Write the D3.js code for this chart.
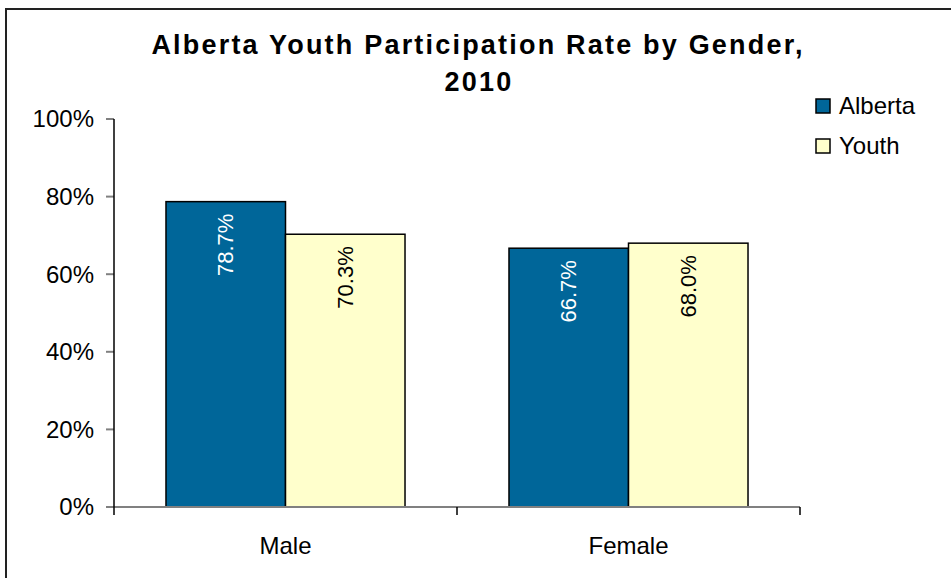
<!DOCTYPE html>
<meta charset="utf-8">
<style>
    * {
        margin: 0px;
    }
    body {
        background: #fff;
    }
    text {
        font-family: "Liberation Sans", Arial, sans-serif;
    }
</style>
<svg width="951" height="578"></svg>
<script src="https://d3js.org/d3.v7.min.js"></script>
<script>
    var categories = ["Male", "Female"];
    var seriesNames = ["Alberta", "Youth"];
    var alberta = [78.7, 66.7];
    var youth = [70.3, 68.0];
    var yTicks = [0, 20, 40, 60, 80, 100];
    var colors = ["#006699", "#FFFFCC"];
    var labelColors = ["#fff", "#000"];

    var svg = d3.select("svg");

    // outer chart frame (runs off the right and bottom edge)
    svg.append("rect")
        .attr("x", 6).attr("y", 9)
        .attr("width", 960).attr("height", 600)
        .attr("fill", "#fff")
        .attr("stroke", "#222")
        .attr("stroke-width", 2);

    // title
    var title = svg.append("text")
        .attr("text-anchor", "middle")
        .attr("font-weight", "bold")
        .attr("font-size", 27)
        .attr("letter-spacing", 2.2)
        .attr("fill", "#000");
    title.append("tspan").attr("x", 478).attr("y", 54).text("Alberta Youth Participation Rate by Gender,");
    title.append("tspan").attr("x", 479).attr("y", 91).text("2010");

    var plotLeft = 114, plotRight = 800, plotTop = 119, plotBottom = 507;

    var x0 = d3.scaleBand().domain(categories).range([plotLeft, plotRight]).paddingInner(0).paddingOuter(0);
    var x1 = d3.scaleBand().domain(seriesNames).range([0, x0.bandwidth()]).paddingOuter(0.435).paddingInner(0);
    var y = d3.scaleLinear().domain([0, 100]).range([plotBottom, plotTop]);

    var rows = categories.map(function(c, i) {
        return { cat: c, values: [alberta[i], youth[i]] };
    });

    // y tick marks (grey) and labels
    var yg = svg.append("g");
    yg.selectAll("line").data(yTicks).enter().append("line")
        .attr("x1", plotLeft - 8).attr("x2", plotLeft)
        .attr("y1", function(d) { return y(d); })
        .attr("y2", function(d) { return y(d); })
        .attr("stroke", "#808080").attr("stroke-width", 2);
    yg.selectAll("text").data(yTicks).enter().append("text")
        .attr("x", 94)
        .attr("y", function(d) { return y(d); })
        .attr("dy", "0.35em")
        .attr("text-anchor", "end")
        .attr("font-size", 24)
        .text(function(d) { return d + "%"; });

    // bars
    var groups = svg.append("g").selectAll("g").data(rows).enter().append("g")
        .attr("transform", function(d) { return "translate(" + x0(d.cat) + ",0)"; });

    function cells(d) {
        return d.values.map(function(v, i) { return { s: seriesNames[i], v: v, i: i }; });
    }

    groups.selectAll("rect").data(cells).enter().append("rect")
        .attr("x", function(d) { return x1(d.s); })
        .attr("y", function(d) { return y(d.v); })
        .attr("width", x1.bandwidth())
        .attr("height", function(d) { return plotBottom - y(d.v); })
        .attr("fill", function(d) { return colors[d.i]; })
        .attr("stroke", "#000")
        .attr("stroke-width", 1.5);

    groups.selectAll("text.val").data(cells).enter().append("text")
        .attr("class", "val")
        .attr("transform", function(d) {
            return "translate(" + (x1(d.s) + x1.bandwidth() / 2) + "," + (y(d.v) + 12) + ") rotate(-90)";
        })
        .attr("text-anchor", "end")
        .attr("dy", "0.35em")
        .attr("font-size", 22)
        .attr("fill", function(d) { return labelColors[d.i]; })
        .text(function(d) { return d.v.toFixed(1) + "%"; });

    // x axis baseline (grey), y axis line and category ticks (black)
    svg.append("line")
        .attr("x1", plotLeft - 8).attr("x2", plotRight)
        .attr("y1", plotBottom).attr("y2", plotBottom)
        .attr("stroke", "#808080").attr("stroke-width", 2);
    svg.append("line")
        .attr("x1", plotLeft).attr("x2", plotLeft)
        .attr("y1", plotTop).attr("y2", plotBottom + 8)
        .attr("stroke", "#000").attr("stroke-width", 1.5);
    var sep = categories.slice(1).map(function(c) { return x0(c); }).concat([plotRight]);
    svg.selectAll("line.sep").data(sep).enter().append("line")
        .attr("class", "sep")
        .attr("x1", function(d) { return d; }).attr("x2", function(d) { return d; })
        .attr("y1", plotBottom).attr("y2", plotBottom + 8)
        .attr("stroke", "#000").attr("stroke-width", 1.5);

    svg.selectAll("text.cat").data(categories).enter().append("text")
        .attr("class", "cat")
        .attr("x", function(d) { return x0(d) + x0.bandwidth() / 2; })
        .attr("y", 546)
        .attr("dy", "0.35em")
        .attr("text-anchor", "middle")
        .attr("font-size", 24)
        .text(function(d) { return d; });

    // legend
    var legend = svg.append("g").selectAll("g").data(seriesNames).enter().append("g")
        .attr("transform", function(d, i) { return "translate(816," + (106 + i * 40) + ")"; });
    legend.append("rect")
        .attr("x", 0).attr("y", -7)
        .attr("width", 14).attr("height", 14)
        .attr("fill", function(d, i) { return colors[i]; })
        .attr("stroke", "#000").attr("stroke-width", 1.5);
    legend.append("text")
        .attr("x", 23).attr("y", 0)
        .attr("dy", "0.35em")
        .attr("font-size", 24)
        .text(function(d) { return d; });
</script>
